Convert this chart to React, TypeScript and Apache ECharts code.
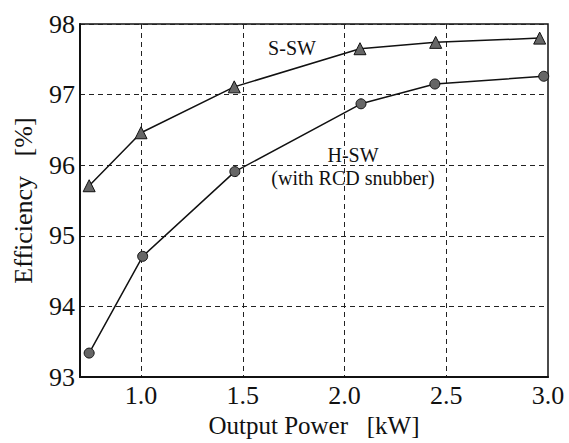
import React, { useEffect, useRef } from "react";
import * as echarts from "echarts";

const powerSSW = [0.745, 1.0, 1.458, 2.076, 2.448, 2.959];
const effSSW = [95.71, 96.46, 97.11, 97.65, 97.74, 97.8];
const powerHSW = [0.745, 1.008, 1.461, 2.081, 2.444, 2.979];
const effHSW = [93.34, 94.71, 95.91, 96.87, 97.15, 97.26];
const xTicks = [1.0, 1.5, 2.0, 2.5, 3.0];
const xGrid = [1.0, 1.5, 2.0, 2.5];

const FONT = "'Liberation Serif', 'Times New Roman', serif";

export default function App() {
  const ref = useRef<HTMLDivElement>(null);
  useEffect(() => {
    const chart = echarts.init(ref.current!, null, { renderer: "svg" });
    const gridLine = { color: "#222", width: 1, type: [5, 4] as any };
    chart.setOption({
      animation: false,
      backgroundColor: "#fff",
      grid: {
        left: 80,
        top: 24,
        right: 21,
        bottom: 64,
        show: true,
        borderColor: "#111",
        borderWidth: 1.5,
      },
      xAxis: {
        type: "value",
        min: 0.7,
        max: 3.0,
        name: "Output Power   [kW]",
        nameLocation: "middle",
        nameGap: 35,
        nameTextStyle: { fontFamily: FONT, fontSize: 25, color: "#111" },
        axisLine: { show: true, lineStyle: { color: "#111", width: 2 } },
        axisTick: { show: false, customValues: xGrid },
        axisLabel: {
          customValues: xTicks,
          formatter: (v: number) => v.toFixed(1),
          fontFamily: FONT,
          fontSize: 26,
          color: "#111",
          margin: 5,
        },
        splitLine: { show: true, lineStyle: gridLine },
      },
      yAxis: {
        type: "value",
        min: 93,
        max: 98,
        interval: 1,
        name: "Efficiency   [%]",
        nameLocation: "middle",
        nameGap: 44,
        nameTextStyle: { fontFamily: FONT, fontSize: 26, color: "#111" },
        axisLine: { show: true, lineStyle: { color: "#111", width: 2 } },
        axisTick: { show: false },
        axisLabel: { fontFamily: FONT, fontSize: 26, color: "#111", margin: 5 },
        splitLine: { show: true, lineStyle: gridLine },
      },
      series: [
        {
          name: "S-SW",
          type: "line",
          data: powerSSW.map((x, i) => [x, effSSW[i]]),
          symbol: "triangle",
          symbolSize: 12,
          lineStyle: { color: "#111", width: 1.5 },
          itemStyle: { color: "#666", borderColor: "#111", borderWidth: 1 },
        },
        {
          name: "H-SW",
          type: "line",
          data: powerHSW.map((x, i) => [x, effHSW[i]]),
          symbol: "circle",
          symbolSize: 10,
          lineStyle: { color: "#111", width: 1.5 },
          itemStyle: { color: "#666", borderColor: "#111", borderWidth: 1 },
        },
      ],
      graphic: [
        {
          type: "text",
          x: 292,
          y: 48,
          style: { text: "S-SW", font: `20px ${FONT}`, fill: "#111", align: "center", verticalAlign: "middle" },
        },
        {
          type: "text",
          x: 353,
          y: 155,
          style: { text: "H-SW", font: `20px ${FONT}`, fill: "#111", align: "center", verticalAlign: "middle" },
        },
        {
          type: "text",
          x: 353,
          y: 178,
          style: { text: "(with RCD snubber)", font: `20px ${FONT}`, fill: "#111", align: "center", verticalAlign: "middle" },
        },
      ],
    });
    return () => chart.dispose();
  }, []);
  return <div ref={ref} style={{ position: "fixed", left: 0, top: 0, width: 569, height: 443 }} />;
}
